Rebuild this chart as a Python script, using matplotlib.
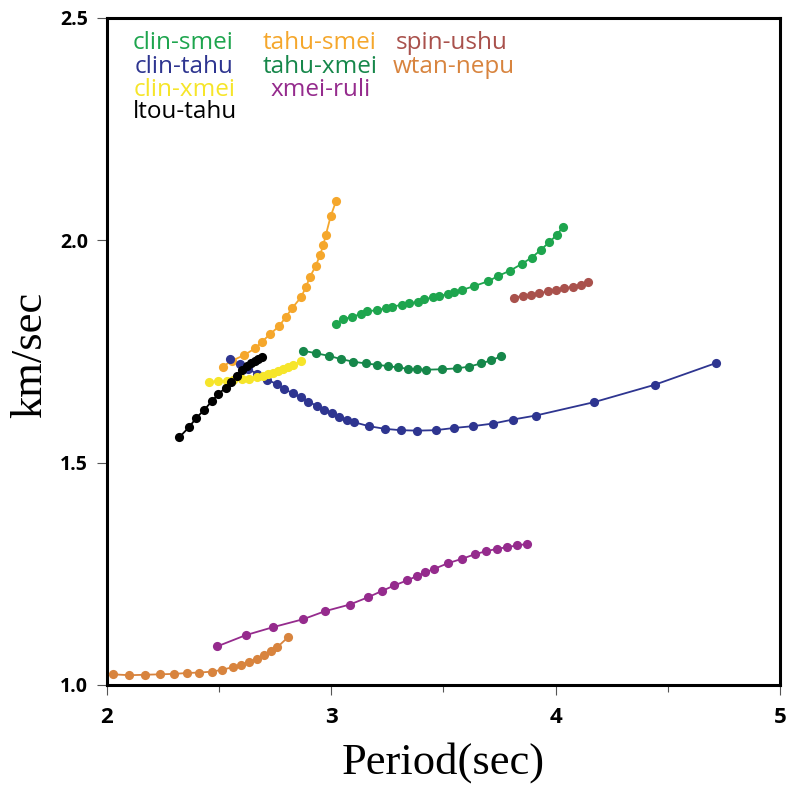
import numpy as np
import matplotlib
matplotlib.use('Agg')
import matplotlib.pyplot as plt
from matplotlib.ticker import MultipleLocator

# --- Data (period in sec, group velocity in km/sec) ---
clin_smei_x = [3.021, 3.053, 3.091, 3.131, 3.158, 3.202, 3.244, 3.272, 3.316, 3.346, 3.388, 3.414, 3.455, 3.481,
               3.521, 3.547, 3.581, 3.636, 3.700, 3.744, 3.798, 3.849, 3.893, 3.933, 3.972, 4.005, 4.034]
clin_smei_y = [1.812, 1.822, 1.828, 1.834, 1.840, 1.843, 1.847, 1.851, 1.855, 1.858, 1.862, 1.867, 1.872, 1.875,
               1.879, 1.883, 1.888, 1.897, 1.908, 1.920, 1.932, 1.947, 1.961, 1.978, 1.996, 2.012, 2.031]

tahu_smei_x = [2.516, 2.556, 2.612, 2.660, 2.691, 2.727, 2.767, 2.798, 2.826, 2.865, 2.886, 2.905, 2.930, 2.949,
               2.964, 2.976, 2.997, 3.021]
tahu_smei_y = [1.716, 1.729, 1.742, 1.757, 1.772, 1.789, 1.807, 1.828, 1.848, 1.872, 1.894, 1.918, 1.942, 1.966,
               1.989, 2.013, 2.054, 2.088]

spin_ushu_x = [3.814, 3.853, 3.889, 3.927, 3.965, 4.002, 4.039, 4.076, 4.112, 4.146]
spin_ushu_y = [1.871, 1.875, 1.878, 1.881, 1.885, 1.888, 1.892, 1.896, 1.900, 1.906]

clin_tahu_x = [2.548, 2.593, 2.630, 2.670, 2.715, 2.756, 2.789, 2.828, 2.863, 2.897, 2.935, 2.969, 3.002, 3.036,
               3.068, 3.101, 3.168, 3.239, 3.309, 3.383, 3.465, 3.547, 3.630, 3.722, 3.810, 3.912, 4.171, 4.441, 4.715]
clin_tahu_y = [1.732, 1.722, 1.711, 1.699, 1.686, 1.677, 1.666, 1.656, 1.647, 1.637, 1.628, 1.618, 1.611, 1.602,
               1.596, 1.591, 1.582, 1.576, 1.573, 1.572, 1.573, 1.578, 1.582, 1.588, 1.597, 1.606, 1.636, 1.675, 1.724]

tahu_xmei_x = [2.872, 2.932, 2.991, 3.042, 3.098, 3.155, 3.205, 3.254, 3.299, 3.343, 3.383, 3.421, 3.492, 3.559,
               3.615, 3.666, 3.713, 3.755]
tahu_xmei_y = [1.752, 1.746, 1.740, 1.733, 1.727, 1.723, 1.720, 1.717, 1.714, 1.711, 1.710, 1.709, 1.710, 1.712,
               1.716, 1.723, 1.730, 1.739]

wtan_nepu_x = [2.025, 2.100, 2.169, 2.236, 2.299, 2.358, 2.412, 2.467, 2.511, 2.560, 2.597, 2.634, 2.667, 2.700,
               2.731, 2.759, 2.806]
wtan_nepu_y = [1.024, 1.022, 1.023, 1.024, 1.025, 1.027, 1.028, 1.030, 1.034, 1.040, 1.045, 1.052, 1.059, 1.067,
               1.076, 1.085, 1.107]

clin_xmei_x = [2.456, 2.496, 2.534, 2.563, 2.600, 2.634, 2.667, 2.697, 2.719, 2.741, 2.764, 2.786, 2.808, 2.830, 2.866]
clin_xmei_y = [1.682, 1.683, 1.684, 1.686, 1.687, 1.688, 1.692, 1.695, 1.699, 1.702, 1.706, 1.710, 1.714, 1.720, 1.729]

xmei_ruli_x = [2.492, 2.618, 2.740, 2.875, 2.972, 3.083, 3.162, 3.224, 3.281, 3.337, 3.382, 3.418, 3.458, 3.521,
               3.584, 3.640, 3.691, 3.737, 3.784, 3.829, 3.871]
xmei_ruli_y = [1.087, 1.112, 1.130, 1.148, 1.166, 1.181, 1.197, 1.211, 1.224, 1.235, 1.245, 1.253, 1.261, 1.274,
               1.284, 1.294, 1.301, 1.306, 1.310, 1.314, 1.317]

ltou_tahu_x = [2.322, 2.366, 2.397, 2.432, 2.467, 2.496, 2.529, 2.553, 2.578, 2.603, 2.625, 2.642, 2.658, 2.674, 2.690]
ltou_tahu_y = [1.557, 1.580, 1.600, 1.618, 1.638, 1.654, 1.669, 1.682, 1.695, 1.708, 1.717, 1.725, 1.729, 1.733, 1.737]

y_ticks = [1.0, 1.5, 2.0, 2.5]
y_tick_labels = ['1.0', '1.5', '2.0', '2.5']

# name, x, y, colour, label position (data coords)
series = [
    ('clin-smei', clin_smei_x, clin_smei_y, '#1ea54e', (2.116, 2.444)),
    ('tahu-smei', tahu_smei_x, tahu_smei_y, '#f5a72c', (2.692, 2.444)),
    ('spin-ushu', spin_ushu_x, spin_ushu_y, '#a9514c', (3.285, 2.444)),
    ('clin-tahu', clin_tahu_x, clin_tahu_y, '#2e3590', (2.122, 2.390)),
    ('tahu-xmei', tahu_xmei_x, tahu_xmei_y, '#16874a', (2.692, 2.390)),
    ('wtan-nepu', wtan_nepu_x, wtan_nepu_y, '#d8843e', (3.275, 2.390)),
    ('clin-xmei', clin_xmei_x, clin_xmei_y, '#f6e52a', (2.120, 2.338)),
    ('xmei-ruli', xmei_ruli_x, xmei_ruli_y, '#952b8d', (2.727, 2.338)),
    ('ltou-tahu', ltou_tahu_x, ltou_tahu_y, '#000000', (2.116, 2.288)),
]

fig = plt.figure(figsize=(7.87, 7.85), dpi=100)
ax = fig.add_axes([0.136, 0.1274, 0.855, 0.8497])

for name, x, y, c, pos in series:
    ax.plot(x, y, '-', color=c, lw=1.3, zorder=2)
    ax.plot(x, y, 'o', color=c, ms=6.6, mec='none', zorder=3)
    ax.text(pos[0], pos[1], name, color=c, fontsize=17.5, family='Open Sans',
            ha='left', va='center')

ax.set_xlim(2, 5)
ax.set_ylim(1.0, 2.5)
ax.xaxis.set_major_locator(MultipleLocator(1))
ax.xaxis.set_minor_locator(MultipleLocator(0.5))
ax.set_yticks(y_ticks)
ax.set_yticklabels(y_tick_labels)

ax.tick_params(axis='both', which='major', direction='out', length=7.2, width=0.8, color='#555555')
ax.tick_params(axis='y', labelsize=14, pad=6.5)
ax.tick_params(axis='x', labelsize=16, pad=8.5)
ax.tick_params(axis='x', which='minor', direction='out', length=5, width=0.8, color='#555555')
for lab in ax.get_xticklabels() + ax.get_yticklabels():
    lab.set_fontweight('bold')
    lab.set_family('Open Sans')

for sp in ax.spines.values():
    sp.set_linewidth(2.2)
    sp.set_color('black')

ax.set_xlabel('Period(sec)', fontsize=32, family='Liberation Serif', labelpad=10)
ax.set_ylabel('km/sec', fontsize=32, family='Liberation Serif', va='center')
ax.yaxis.set_label_coords(-0.1144, 0.495)

fig.savefig('out.png', dpi=100)
